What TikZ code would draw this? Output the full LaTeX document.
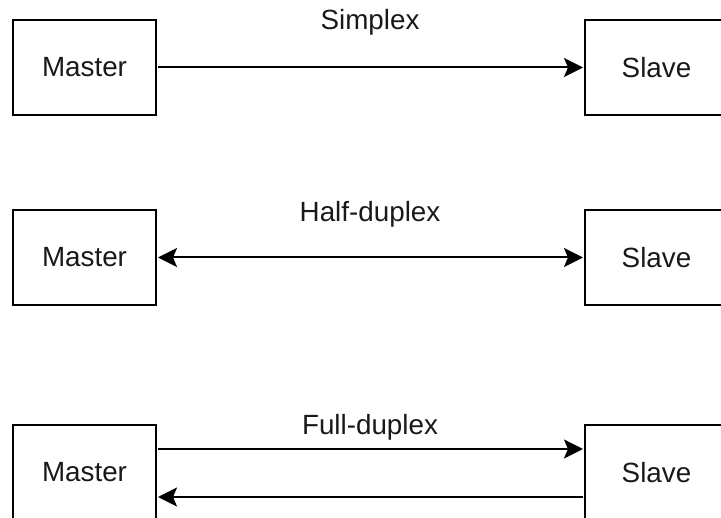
\documentclass[tikz,border=0pt]{standalone}
\usepackage{fontspec}
\setmainfont{Liberation Sans}
\usetikzlibrary{arrows.meta}
\begin{document}
\begin{tikzpicture}[x=1pt,y=-1pt,
  box/.style={draw=black, line width=2pt, minimum width=143pt, minimum height=95pt, inner sep=0pt, font=\fontsize{27.8}{30}\selectfont, text=black!90},
  lbl/.style={inner sep=0pt, font=\fontsize{27.8}{30}\selectfont, text=black!90, anchor=base},
  conn/.style={line width=2pt, draw=black, shorten <=1pt, shorten >=1pt},
  tip/.tip={Stealth[length=19pt,width=19pt,inset=4pt]}
]
\useasboundingbox (0,0) rectangle (721,518);
\clip (0,0) rectangle (721,518);
% row 1
\node[box] (m1) at (84.5,67.5) {Master};
\node[box] (s1) at (656.5,67.5) {Slave};
\draw[conn,-tip] (m1) -- (s1);
\node[lbl] (l1) at (370,30) {Simplex};
% row 2
\node[box] (m2) at (84.5,257.5) {Master};
\node[box] (s2) at (656.5,257.5) {Slave};
\draw[conn,tip-tip] (m2) -- (s2);
\node[lbl] (l2) at (370,222) {Half-duplex};
% row 3
\node[box] (m3) at (84.5,472.5) {Master};
\node[box] (s3) at (656.5,472.5) {Slave};
\draw[conn,-tip] ([yshift=23.5pt]m3.east) -- ([yshift=23.5pt]s3.west);
\draw[conn,-tip] ([yshift=-24.5pt]s3.west) -- ([yshift=-24.5pt]m3.east);
\node[lbl] (l3) at (370,435) {Full-duplex};
\end{tikzpicture}
\end{document}
